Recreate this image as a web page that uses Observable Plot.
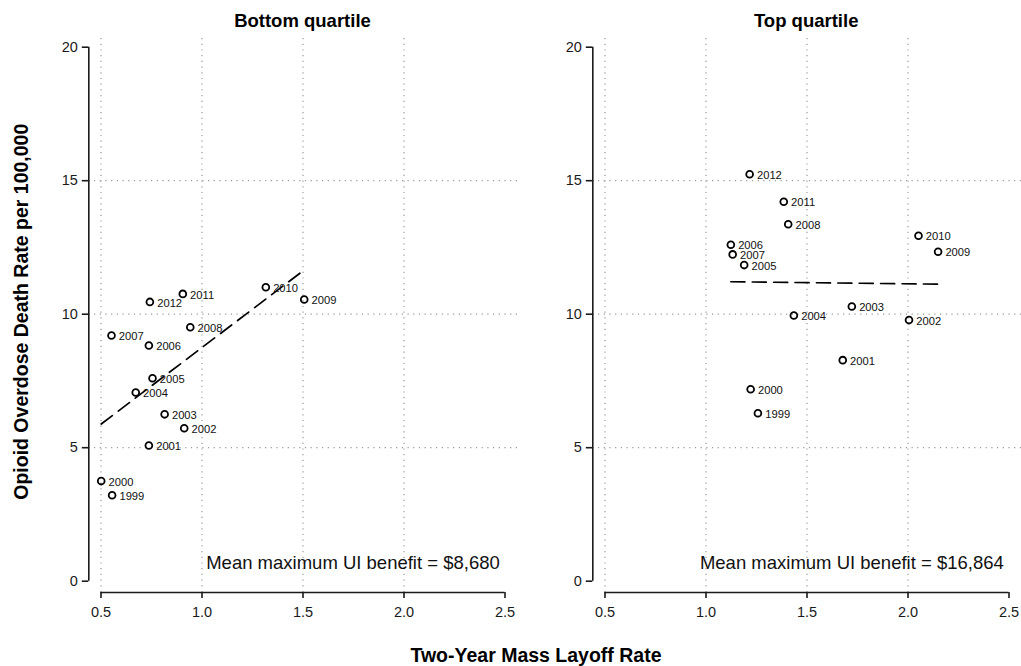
<!DOCTYPE html>
<html><head><meta charset="utf-8">
<script src="https://cdn.jsdelivr.net/npm/d3@7"></script>
<script src="https://cdn.jsdelivr.net/npm/@observablehq/plot@0.6"></script>
<style>
html,body{margin:0;padding:0;background:#fff;overflow:hidden}
#root{position:relative;width:1021px;height:666px;font-family:"Liberation Sans",Arial,sans-serif;color:#000;overflow:hidden}
.panel{position:absolute;top:0;width:520px;height:640px}
.panel svg{background:transparent;overflow:visible;max-width:none !important;width:520px;height:640px}
.lbl{position:absolute;white-space:nowrap;font-weight:bold;line-height:1;text-align:center;color:#000;pointer-events:none}
</style></head><body><div id="root"></div>
<script>
const years = [1999,2000,2001,2002,2003,2004,2005,2006,2007,2008,2009,2010,2011,2012];
const bottomRate = [0.555,0.501,0.737,0.912,0.815,0.672,0.755,0.737,0.552,0.942,1.506,1.316,0.905,0.742];
const bottomDeaths = [3.22,3.75,5.08,5.73,6.25,7.07,7.60,8.83,9.20,9.51,10.55,11.01,10.76,10.46];
const topRate = [1.257,1.221,1.677,2.005,1.722,1.435,1.189,1.123,1.132,1.407,2.149,2.052,1.385,1.216];
const topDeaths = [6.29,7.19,8.28,9.78,10.29,9.95,11.84,12.60,12.24,13.37,12.34,12.94,14.21,15.24];
const panelTitles = ["Bottom quartile","Top quartile"];
const benefitLabels = ["Mean maximum UI benefit = $8,680","Mean maximum UI benefit = $16,864"];
const xTicks = [0.5,1.0,1.5,2.0,2.5];
const yTicks = [0,5,10,15,20];
const xGrid = [0.5,1.0,1.5,2.0];
const yGrid = [5,10,15];
const XLIM = [0.4396, 2.5718];
const YLIM = [-0.423, 20.326];
const yLabel = "Opioid Overdose Death Rate per 100,000";
const xLabel = "Two-Year Mass Layoff Rate";

const FONT = '"Liberation Sans", Arial, sans-serif';
const root = document.getElementById("root");

function panel(rates, deaths, benefit, left) {
  const data = years.map((yr, i) => ({year: yr, x: rates[i], y: deaths[i]}));
  const grid = {stroke: "#9a9a9a", strokeDasharray: "1.2,4.5", strokeWidth: 1.2};
  const axisLine = {stroke: "#1a1a1a", strokeWidth: 1.6};
  const p = Plot.plot({
    width: 520, height: 640,
    marginLeft: 88.3, marginRight: 1, marginTop: 38, marginBottom: 48,
    x: {domain: XLIM},
    y: {domain: YLIM},
    style: {fontFamily: FONT, fontSize: "14.5px", background: "transparent", overflow: "visible", color: "#1a1a1a"},
    marks: [
      Plot.ruleX(xGrid, grid),
      Plot.ruleY(yGrid, grid),
      Plot.axisX({anchor: "bottom", ticks: xTicks, tickFormat: d3.format(".1f"), tickSize: 6, tickPadding: 8, fontSize: 14.5, strokeWidth: 1.6, label: null}),
      Plot.axisY({anchor: "left", ticks: yTicks, tickFormat: d3.format("d"), tickSize: 6.5, tickPadding: 4.4, fontSize: 14.5, strokeWidth: 1.6, label: null}),
      Plot.ruleY([YLIM[0]], {x1: xTicks[0], x2: xTicks[xTicks.length - 1], ...axisLine}),
      Plot.ruleX([XLIM[0]], {y1: yTicks[0], y2: yTicks[yTicks.length - 1], ...axisLine}),
      Plot.linearRegressionY(data, {x: "x", y: "y", ci: 0, stroke: "#000", strokeWidth: 1.7, strokeDasharray: "14,7.4"}),
      Plot.dot(data, {x: "x", y: "y", r: 3.4, stroke: "#000", strokeWidth: 1.8, fill: "none"}),
      Plot.text(data, {x: "x", y: "y", text: d => String(d.year), dx: 7.3, dy: 1, textAnchor: "start", fontSize: 11.2, fill: "#111"}),
      Plot.text([benefit], {frameAnchor: "bottom-right", text: d => d, textAnchor: "end", dx: -19.7, dy: -23.2, fontSize: 18.5, fill: "#111"})
    ]
  });
  const wrap = document.createElement("div");
  wrap.className = "panel";
  wrap.style.left = left + "px";
  wrap.appendChild(p);
  root.appendChild(wrap);
}

panel(bottomRate, bottomDeaths, benefitLabels[0], 0);
panel(topRate, topDeaths, benefitLabels[1], 503.7);

function label(text, cx, top, size, rotate) {
  const d = document.createElement("div");
  d.className = "lbl";
  d.textContent = text;
  d.style.fontSize = size + "px";
  d.style.width = "600px";
  d.style.height = size + "px";
  d.style.left = (cx - 300) + "px";
  d.style.top = top + "px";
  if (rotate) d.style.transform = "rotate(-90deg)";
  root.appendChild(d);
}
label(panelTitles[0], 302.5, 11.6, 18.5);
label(panelTitles[1], 806.2, 11.6, 18.5);
label(xLabel, 536, 646.2, 19.5);
label(yLabel, 22.3, 311.5 - 9.75, 19.5, true);
</script></body></html>
